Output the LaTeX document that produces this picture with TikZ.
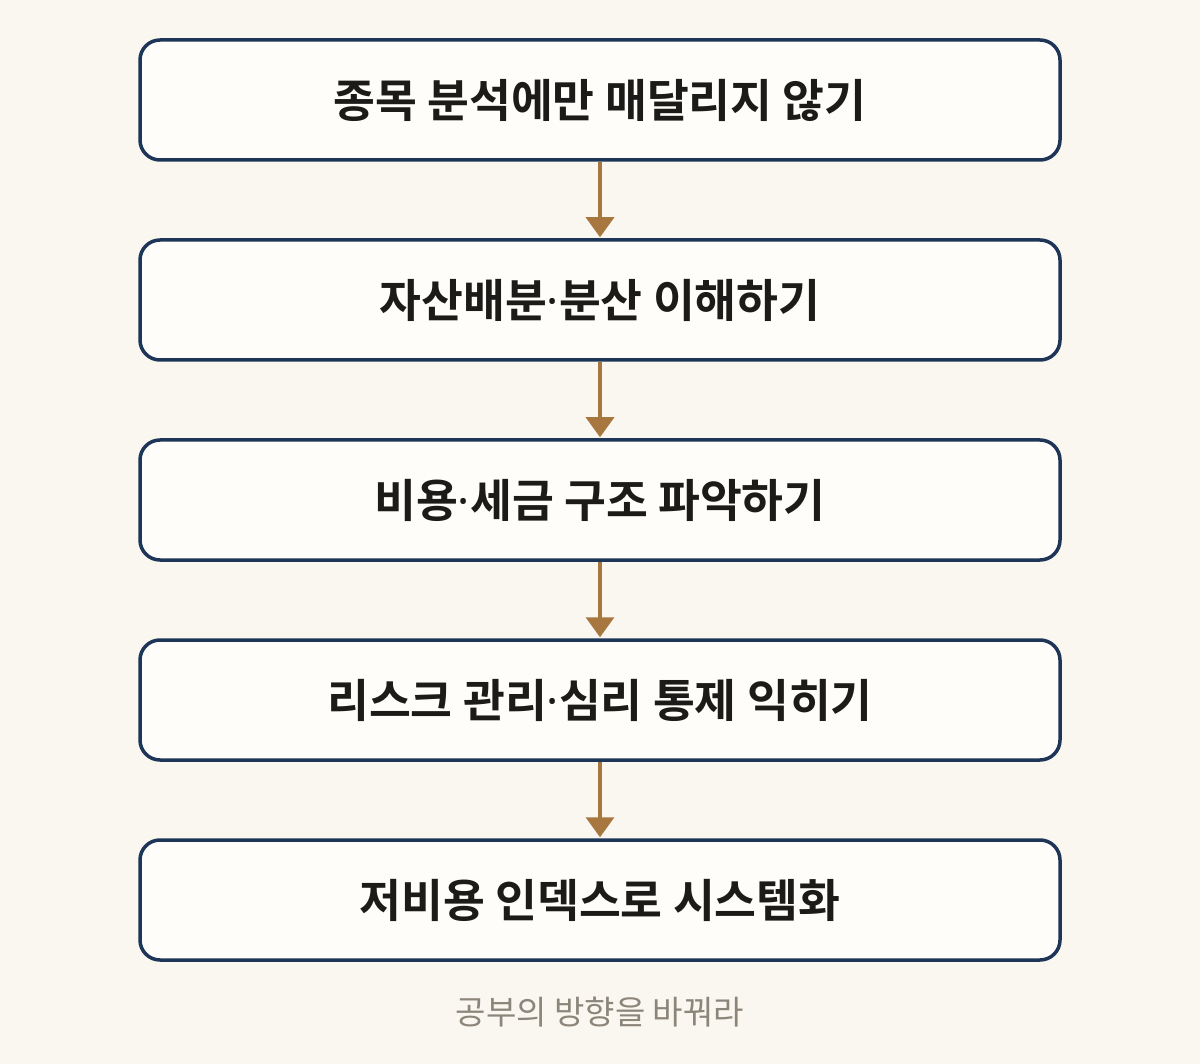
\documentclass[tikz,border=0pt]{standalone}
\usepackage{fontspec}
\setmainfont{Noto Sans CJK KR}
\newfontfamily\krbold{Noto Sans CJK KR Bold}
\newfontfamily\krreg{Noto Sans CJK KR}
\newfontfamily\dotf{Noto Sans}
\newcommand{\md}{{\dotf ·}}
\usetikzlibrary{arrows.meta}
\definecolor{bgc}{HTML}{F9F7F0}
\definecolor{boxfill}{HTML}{FEFDF9}
\definecolor{boxline}{HTML}{1D3557}
\definecolor{arrowc}{HTML}{A8773F}
\definecolor{textc}{HTML}{1C1B19}
\definecolor{capc}{HTML}{8C857A}
\tikzset{
  stepbox/.style={draw=boxline, line width=3.5pt, fill=boxfill, rounded corners=20pt,
    minimum width=920pt, minimum height=120pt, inner sep=0pt, text=textc,
    font=\krbold\fontsize{45.5pt}{54pt}\selectfont},
  flow/.style={draw=arrowc, line width=3.5pt, -{Triangle[width=28pt,length=20pt]}, shorten >=1pt},
  caption/.style={text=capc, font=\krreg\fontsize{33pt}{40pt}\selectfont}
}
\begin{document}
\begin{tikzpicture}[x=1pt,y=-1pt]
\fill[bgc] (0,0) rectangle (1200,1064);
\useasboundingbox (0,0) rectangle (1200,1064);
\node[stepbox] (s1) at (600,100) {종목 분석에만 매달리지 않기};
\node[stepbox] (s2) at (600,300) {자산배분\md 분산 이해하기};
\node[stepbox] (s3) at (600,500) {비용\md 세금 구조 파악하기};
\node[stepbox] (s4) at (600,700) {리스크 관리\md 심리 통제 익히기};
\node[stepbox] (s5) at (600,900) {저비용 인덱스로 시스템화};
\draw[flow] (s1.south) -- (s2.north);
\draw[flow] (s2.south) -- (s3.north);
\draw[flow] (s3.south) -- (s4.north);
\draw[flow] (s4.south) -- (s5.north);
\node[caption] (cap) at (600,1012) {공부의 방향을 바꿔라};
\end{tikzpicture}
\end{document}
